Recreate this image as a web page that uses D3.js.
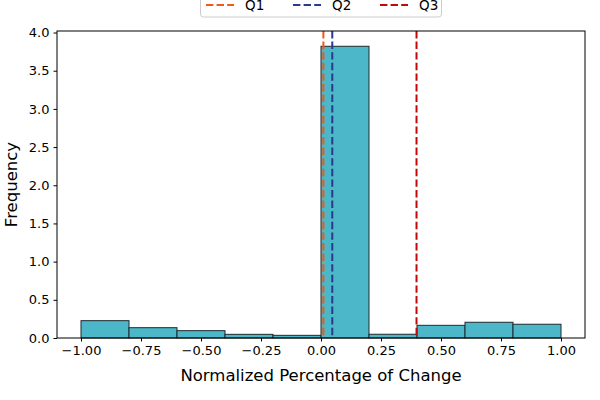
<!DOCTYPE html>
<html>
<head>
<meta charset="utf-8">
<script src="https://cdn.jsdelivr.net/npm/d3@7"></script>
<style>
  body { margin: 0; background: #fff; }
  svg { font-family: "DejaVu Sans", sans-serif; }
</style>
</head>
<body>
<div id="chart"></div>
<script>
// histogram bins (density)
const binEdges = [-1.0, -0.8, -0.6, -0.4, -0.2, 0.0, 0.2, 0.4, 0.6, 0.8, 1.0];
const density = [0.227, 0.135, 0.096, 0.048, 0.035, 3.82, 0.049, 0.166, 0.206, 0.18];

const quartileNames = ["Q1", "Q2", "Q3"];
const quartileValues = [0.01, 0.047, 0.398];
const quartileColors = ["#f05a14", "#2a3a8c", "#c00a0a"];

const xTicks = [-1.0, -0.75, -0.5, -0.25, 0.0, 0.25, 0.5, 0.75, 1.0];
const yTicks = [0, 0.5, 1.0, 1.5, 2.0, 2.5, 3.0, 3.5, 4.0];

const width = 600, height = 400;
const margin = { top: 31, right: 15, bottom: 62, left: 57 };
const innerW = width - margin.left - margin.right;
const innerH = height - margin.top - margin.bottom;

const svg = d3.select("#chart").append("svg")
    .attr("width", width)
    .attr("height", height);

const x = d3.scaleLinear().domain([-1.1, 1.1]).range([0, innerW]);
const y = d3.scaleLinear().domain([0, 4.02]).range([innerH, 0]);

const g = svg.append("g")
    .attr("transform", `translate(${margin.left},${margin.top})`);

// bars
const bins = density.map((v, i) => ({ x0: binEdges[i], x1: binEdges[i + 1], v }));
g.append("g")
    .selectAll("rect")
    .data(bins)
    .enter()
    .append("rect")
    .attr("x", d => x(d.x0))
    .attr("y", d => y(d.v))
    .attr("width", d => x(d.x1) - x(d.x0))
    .attr("height", d => y(0) - y(d.v))
    .attr("fill", "#4bb7c9")
    .attr("stroke", "#1f2a2e")
    .attr("stroke-width", 1);

// quartile lines
g.append("g")
    .selectAll("line")
    .data(quartileValues)
    .enter()
    .append("line")
    .attr("x1", d => x(d))
    .attr("x2", d => x(d))
    .attr("y1", 0)
    .attr("y2", innerH)
    .attr("stroke", (d, i) => quartileColors[i])
    .attr("stroke-width", 2)
    .attr("stroke-dasharray", "7.4,3.2");

// axes
const xAxis = g.append("g")
    .attr("transform", `translate(0,${innerH})`)
    .call(d3.axisBottom(x).tickValues(xTicks).tickFormat(d3.format(".2f")).tickSizeOuter(0).tickSize(3.5).tickPadding(4));
const yAxis = g.append("g")
    .call(d3.axisLeft(y).tickValues(yTicks).tickFormat(d3.format(".1f")).tickSizeOuter(0).tickSize(3.5).tickPadding(4));
[xAxis, yAxis].forEach(a => {
    a.selectAll("text").attr("font-size", 13).attr("fill", "#000").attr("font-family", "DejaVu Sans");
    a.selectAll(".tick line").attr("stroke", "#000");
    a.select(".domain").remove();
});

// frame
g.append("rect")
    .attr("width", innerW)
    .attr("height", innerH)
    .attr("fill", "none")
    .attr("stroke", "#000")
    .attr("stroke-width", 1);

// axis labels
svg.append("text")
    .attr("x", margin.left + innerW / 2)
    .attr("y", 381)
    .attr("text-anchor", "middle")
    .attr("font-size", 16.5)
    .text("Normalized Percentage of Change");
svg.append("text")
    .attr("transform", `translate(17,${margin.top + innerH / 2}) rotate(-90)`)
    .attr("text-anchor", "middle")
    .attr("font-size", 16.5)
    .text("Frequency");

// legend (clipped at the top like the original)
const legend = svg.append("g");
legend.append("rect")
    .attr("x", 200.5)
    .attr("y", -12)
    .attr("width", 241)
    .attr("height", 29)
    .attr("rx", 3)
    .attr("fill", "#fff")
    .attr("stroke", "#ccc");
const items = legend.selectAll("g.item")
    .data(quartileNames)
    .enter()
    .append("g")
    .attr("transform", (d, i) => `translate(${206 + i * 87},5)`);
items.append("line")
    .attr("x1", 0).attr("x2", 28)
    .attr("stroke", (d, i) => quartileColors[i])
    .attr("stroke-width", 2)
    .attr("stroke-dasharray", "7.4,3.2");
items.append("text")
    .attr("x", 39)
    .attr("y", 5)
    .attr("font-size", 13.5)
    .text(d => d);
</script>
</body>
</html>
